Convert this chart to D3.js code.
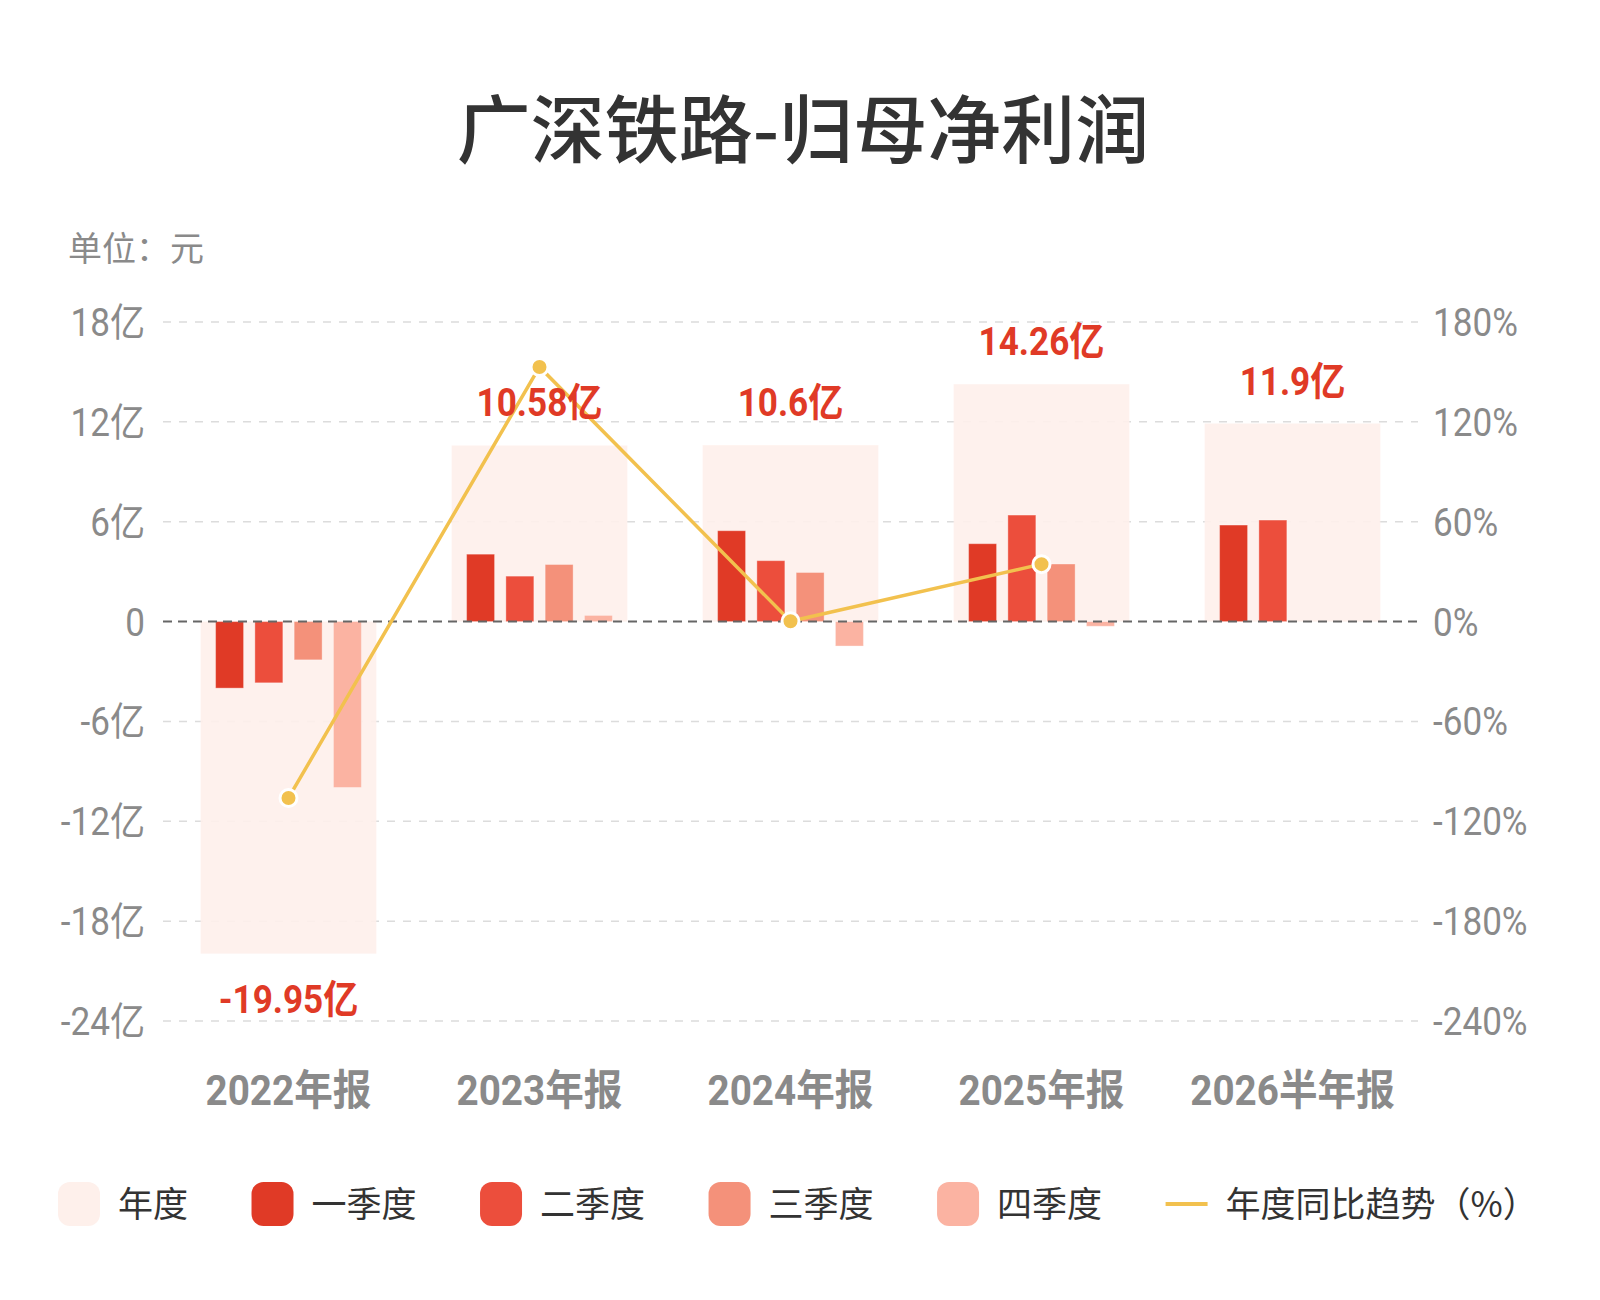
<!DOCTYPE html>
<html>
<head>
<meta charset="utf-8">
<script src="https://cdn.jsdelivr.net/npm/d3@7/dist/d3.min.js"></script>
<style>
  html, body { margin: 0; padding: 0; background: #ffffff; }
  svg { display: block; }
</style>
</head>
<body>
<div id="chart"></div>
<script>
// ---------------- DATA ----------------
const categories = ['2022年报', '2023年报', '2024年报', '2025年报', '2026半年报'];
const annual = [-19.95, 10.58, 10.6, 14.26, 11.9];
const q1 = [-4.00, 4.05, 5.46, 4.68, 5.80];
const q2 = [-3.68, 2.73, 3.66, 6.40, 6.10];
const q3 = [-2.30, 3.43, 2.95, 3.46, null];
const q4 = [-9.97, 0.37, -1.47, -0.28, null];
const yoy = [-106, 153, 0.19, 34.5, null];
const leftTicks = [-24, -18, -12, -6, 0, 6, 12, 18];
const rightTicks = [-240, -180, -120, -60, 0, 60, 120, 180];
const legendNames = ['年度', '一季度', '二季度', '三季度', '四季度', '年度同比趋势（%）'];

// ---------------- STYLE ----------------
const W = 1600, H = 1300;
const numFont = 'Roboto, "Noto Sans CJK SC", sans-serif';
const cjkFont = '"Noto Sans CJK SC", "Noto Sans", sans-serif';
const colAnnual = '#FEF0EB';
const qColors = ['#E03A26', '#EC4E3C', '#F4917A', '#FBB3A2'];
const lineColor = '#F2C14E';
const labelRed = '#E03A26';
const axisGray = '#8a8a8a';
const CX = 0.9; // horizontal condensing of numeric labels

const svg = d3.select('#chart').append('svg')
  .attr('width', W).attr('height', H)
  .style('background', '#fff');

// helper: condensed text at (px, py)
function condText(sel, px, py, sx) {
  return sel.attr('transform', (d, i) => {
    const xx = typeof px === 'function' ? px(d, i) : px;
    const yy = typeof py === 'function' ? py(d, i) : py;
    return `translate(${xx},${yy}) scale(${sx},1)`;
  });
}

// ---------------- SCALES ----------------
const x = d3.scaleBand().domain(categories).range([163, 1418]).padding(0);
const y = d3.scaleLinear().domain([-24, 18]).range([1021, 322]);
const yR = d3.scaleLinear().domain([-240, 180]).range([1021, 322]);
const half = x.bandwidth() * 0.313;
const xq = d3.scaleBand().domain([0, 1, 2, 3]).range([-half, half])
  .paddingInner(0.2875).paddingOuter(0.14375);
const annualW = x.bandwidth() * 0.7;
const cx = c => x(c) + x.bandwidth() / 2;

// ---------------- TITLE ----------------
svg.append('text')
  .attr('x', 803).attr('y', 157)
  .attr('text-anchor', 'middle')
  .attr('font-family', cjkFont)
  .attr('font-weight', 500)
  .attr('font-size', 74)
  .attr('fill', '#333')
  .text('广深铁路-归母净利润');

svg.append('text')
  .attr('x', 68).attr('y', 261)
  .attr('font-family', cjkFont)
  .attr('font-size', 34)
  .attr('fill', axisGray)
  .text('单位：元');

// ---------------- GRID ----------------
svg.append('g').selectAll('line')
  .data(leftTicks.filter(t => t !== 0))
  .join('line')
  .attr('x1', x.range()[0]).attr('x2', x.range()[1])
  .attr('y1', d => y(d)).attr('y2', d => y(d))
  .attr('stroke', '#dcdcdc')
  .attr('stroke-width', 1.5)
  .attr('stroke-dasharray', '8,8');

// left axis labels
condText(svg.append('g').selectAll('text')
  .data(leftTicks).join('text'), 145, d => y(d), CX)
  .attr('dy', '0.36em')
  .attr('text-anchor', 'end')
  .attr('font-family', numFont)
  .attr('font-size', 39)
  .attr('fill', axisGray)
  .text(d => d === 0 ? '0' : d + '亿');

// right axis labels
condText(svg.append('g').selectAll('text')
  .data(rightTicks).join('text'), 1433, d => yR(d), CX)
  .attr('dy', '0.36em')
  .attr('text-anchor', 'start')
  .attr('font-family', numFont)
  .attr('font-size', 39)
  .attr('fill', axisGray)
  .text(d => d + '%');

// ---------------- ANNUAL BARS ----------------
svg.append('g').selectAll('rect')
  .data(categories.map((c, i) => ({ c, v: annual[i] })))
  .join('rect')
  .attr('x', d => cx(d.c) - annualW / 2)
  .attr('width', annualW)
  .attr('y', d => Math.min(y(d.v), y(0)))
  .attr('height', d => Math.abs(y(d.v) - y(0)))
  .attr('fill', colAnnual)
  .attr('opacity', 0.9);

// ---------------- QUARTER BARS ----------------
const quarterSeries = [q1, q2, q3, q4];
const qData = [];
categories.forEach((c, i) => {
  quarterSeries.forEach((s, k) => {
    if (s[i] !== null && s[i] !== undefined) qData.push({ c, k, v: s[i] });
  });
});
svg.append('g').selectAll('rect')
  .data(qData).join('rect')
  .attr('x', d => cx(d.c) + xq(d.k))
  .attr('width', xq.bandwidth())
  .attr('y', d => Math.min(y(d.v), y(0)))
  .attr('height', d => Math.abs(y(d.v) - y(0)))
  .attr('fill', d => qColors[d.k])
  .attr('stroke', 'rgba(255,255,255,0.35)')
  .attr('stroke-width', 1);

// ---------------- ZERO LINE ----------------
svg.append('line')
  .attr('x1', x.range()[0]).attr('x2', x.range()[1])
  .attr('y1', y(0)).attr('y2', y(0))
  .attr('stroke', '#666')
  .attr('stroke-width', 2)
  .attr('stroke-dasharray', '9,6');

// ---------------- YOY LINE ----------------
const lineData = categories.map((c, i) => ({ c, v: yoy[i] })).filter(d => d.v !== null);
const lineGen = d3.line()
  .x(d => cx(d.c))
  .y(d => yR(d.v));
svg.append('path')
  .datum(lineData)
  .attr('d', lineGen)
  .attr('fill', 'none')
  .attr('stroke', lineColor)
  .attr('stroke-width', 3.5);
svg.append('g').selectAll('circle')
  .data(lineData).join('circle')
  .attr('cx', d => cx(d.c))
  .attr('cy', d => yR(d.v))
  .attr('r', 8.5)
  .attr('fill', lineColor)
  .attr('stroke', '#fff')
  .attr('stroke-width', 3);

// ---------------- ANNUAL LABELS ----------------
condText(svg.append('g').selectAll('text')
  .data(categories.map((c, i) => ({ c, v: annual[i] })))
  .join('text'),
  d => cx(d.c),
  d => d.v >= 0 ? y(d.v) - 29 : y(d.v) + 59, CX)
  .attr('text-anchor', 'middle')
  .attr('font-family', numFont)
  .attr('font-weight', 700)
  .attr('font-size', 39)
  .attr('fill', labelRed)
  .text(d => d.v + '亿');

// ---------------- X LABELS ----------------
condText(svg.append('g').selectAll('text')
  .data(categories).join('text'), d => cx(d), 1105, 0.92)
  .attr('text-anchor', 'middle')
  .attr('font-family', numFont)
  .attr('font-weight', 700)
  .attr('font-size', 42)
  .attr('fill', axisGray)
  .text(d => d);

// ---------------- LEGEND ----------------
const legend = svg.append('g');
let lx = 58;
const ly = 1204;
legendNames.forEach((name, i) => {
  const g = legend.append('g');
  if (i < 5) {
    g.append('rect')
      .attr('x', lx).attr('y', ly - 22)
      .attr('width', 42).attr('height', 44)
      .attr('rx', 12).attr('ry', 12)
      .attr('fill', i === 0 ? colAnnual : qColors[i - 1]);
  } else {
    g.append('line')
      .attr('x1', lx).attr('x2', lx + 42)
      .attr('y1', ly).attr('y2', ly)
      .attr('stroke', lineColor)
      .attr('stroke-width', 4);
  }
  const t = g.append('text')
    .attr('x', lx + 60).attr('y', ly)
    .attr('dy', '0.36em')
    .attr('font-family', cjkFont)
    .attr('font-size', 35)
    .attr('fill', '#333')
    .text(name);
  const tw = t.node().getComputedTextLength();
  lx = lx + 60 + tw + 63.5;
});
</script>
</body>
</html>
